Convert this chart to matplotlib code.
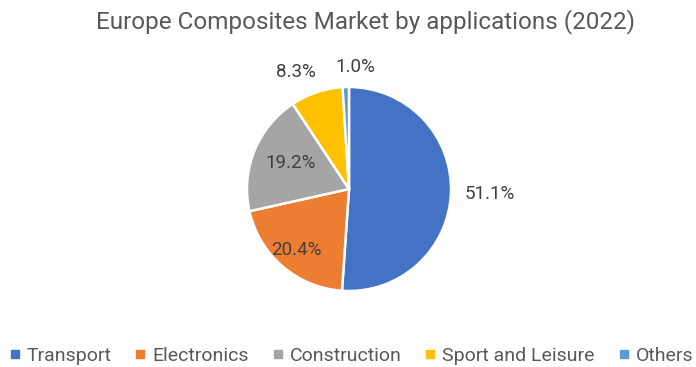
import numpy as np
import matplotlib.pyplot as plt

categories = ['Transport', 'Electronics', 'Construction', 'Sport and Leisure', 'Others']
shares = [51.1, 20.4, 19.2, 8.3, 1.0]
labels = ['51.1%', '20.4%', '19.2%', '8.3%', '1.0%']
colors = ['#4472C4', '#ED7D31', '#A5A5A5', '#FFC000', '#5B9BD5']
# radial distance and angular nudge (deg) for each label
label_dist = [1.38, 0.79, 0.63, 1.26, 1.2]
label_nudge = [0, 0, -2, 6, -5]

plt.rcParams['font.family'] = ['Roboto', 'DejaVu Sans']

W, H = 696, 367
fig = plt.figure(figsize=(W / 100, H / 100), dpi=100)
cx, cy, r = 349, 189, 102
ax = fig.add_axes([(cx - r) / W, (H - cy - r) / H, 2 * r / W, 2 * r / H])

wedges, _ = ax.pie(shares, colors=colors, startangle=90, counterclock=False,
                   wedgeprops=dict(edgecolor='white', linewidth=1.8))
ax.set_xlim(-1, 1)
ax.set_ylim(-1, 1)
ax.axis('off')

for w, lab, d, nd in zip(wedges, labels, label_dist, label_nudge):
    ang = np.deg2rad((w.theta1 + w.theta2) / 2 + nd)
    ax.text(d * np.cos(ang), d * np.sin(ang), lab, ha='center', va='center',
            fontsize=13.5, color='#404040', clip_on=False)

fig.text(366 / W, 1 - 22 / H, 'Europe Composites Market by applications (2022)',
         ha='center', va='center', fontsize=17.5, color='#595959')

handles = [plt.Line2D([], [], marker='s', linestyle='', color=c, markersize=6)
           for c in colors]
fig.legend(handles, categories, loc='center', bbox_to_anchor=(351 / W, 1 - 356 / H),
           ncol=5, frameon=False, fontsize=14, handlelength=0.6,
           handletextpad=0.3, columnspacing=1.2, labelcolor='#595959')

fig.savefig('out.png', dpi=100)
